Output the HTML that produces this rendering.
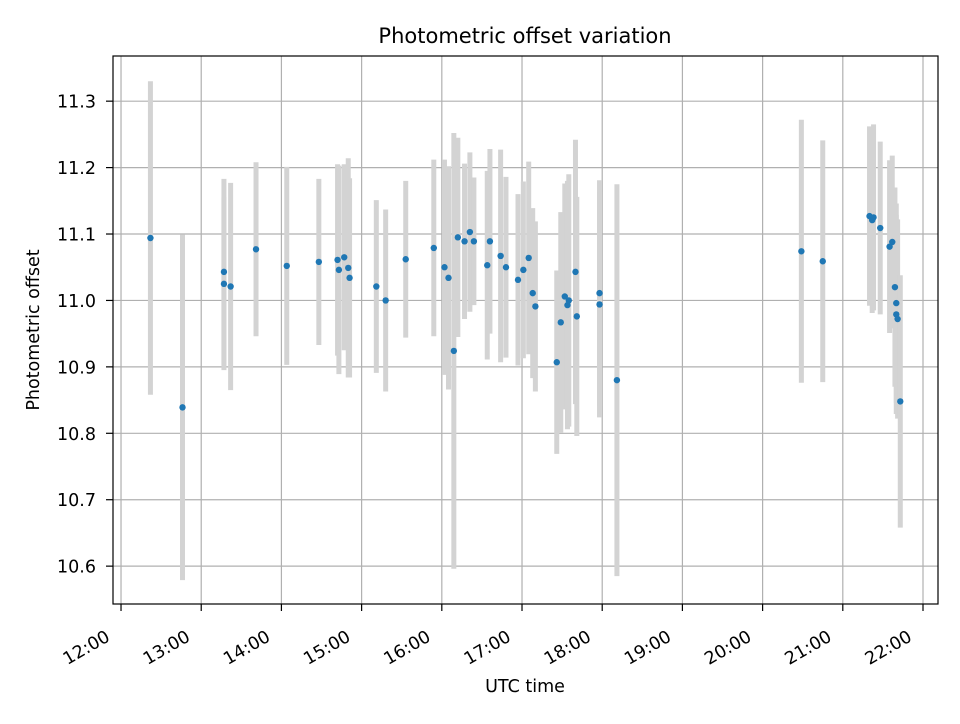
<!DOCTYPE html>
<html><head><meta charset="utf-8"><style>
body{margin:0;background:#fff;font-family:"DejaVu Sans","Liberation Sans",sans-serif}
</style></head><body>
<svg id="chart" width="960" height="720" xmlns="http://www.w3.org/2000/svg" style="font-family:'DejaVu Sans','Liberation Sans',sans-serif">
<rect width="960" height="720" fill="#fff"/>
<text x="525" y="43" text-anchor="middle" font-size="21px">Photometric offset variation</text>
<text x="525" y="692" text-anchor="middle" font-size="17.5px">UTC time</text>
<text transform="translate(39,330) rotate(-90)" text-anchor="middle" font-size="17.5px">Photometric offset</text>
<g id="grid"></g>
<g id="bars"></g>
<g id="pts"></g>
<g id="ticks"></g>
<rect x="113" y="56" width="825" height="548" fill="none" stroke="#000" stroke-width="1.2"/>
</svg>
<script>
const times=["12:22","12:46","13:17","13:17","13:22","13:41","14:04","14:28","14:42","14:43","14:47","14:50","14:51","15:11","15:18","15:33","15:54","16:02","16:05","16:09","16:12","16:17","16:21","16:24","16:34","16:36","16:44","16:48","16:57","17:01","17:05","17:08","17:10","17:26","17:29","17:32","17:34","17:35","17:40","17:41","17:58","17:58","18:11","20:29","20:45","21:20","21:22","21:23","21:28","21:35","21:37","21:39","21:40","21:40","21:41","21:43"];
const values=[11.094,10.839,11.043,11.025,11.021,11.077,11.052,11.058,11.061,11.046,11.065,11.049,11.034,11.021,11.000,11.062,11.079,11.050,11.034,10.924,11.095,11.089,11.103,11.089,11.053,11.089,11.067,11.050,11.031,11.046,11.064,11.011,10.991,10.907,10.967,11.006,10.993,11.000,11.043,10.976,11.011,10.994,10.880,11.074,11.059,11.127,11.121,11.125,11.109,11.081,11.088,11.020,10.996,10.979,10.972,10.848];
const errors=[0.236,0.260,0.140,0.130,0.156,0.131,0.149,0.125,0.144,0.157,0.140,0.165,0.150,0.130,0.137,0.118,0.133,0.162,0.168,0.328,0.150,0.117,0.120,0.096,0.142,0.139,0.160,0.136,0.129,0.133,0.145,0.128,0.128,0.138,0.166,0.170,0.187,0.190,0.199,0.180,0.170,0.170,0.295,0.198,0.182,0.135,0.140,0.140,0.130,0.130,0.130,0.150,0.150,0.150,0.150,0.190];
const yTicks=[10.6,10.7,10.8,10.9,11.0,11.1,11.2,11.3];
const xTicks=["12:00","13:00","14:00","15:00","16:00","17:00","18:00","19:00","20:00","21:00","22:00"];
const NS="http://www.w3.org/2000/svg";
const X0=113,X1=938,Y0=56,Y1=604,hMin=11.9,hMax=22.187,vMin=10.543,vMax=11.368;
function hrs(t){const p=t.split(":");return +p[0]+ +p[1]/60;}
function xs(t){return X0+(hrs(t)-hMin)/(hMax-hMin)*(X1-X0);}
function ys(v){return Y1-(v-vMin)/(vMax-vMin)*(Y1-Y0);}
function mk(tag,attrs,parent){const e=document.createElementNS(NS,tag);for(const k in attrs)e.setAttribute(k,attrs[k]);parent.appendChild(e);return e;}
const grid=document.getElementById("grid"),bars=document.getElementById("bars"),pts=document.getElementById("pts"),ticks=document.getElementById("ticks");
yTicks.forEach(v=>{const y=ys(v);
 const g=mk("line",{x1:X0,x2:X1,y1:y,y2:y,stroke:"#b0b0b0","stroke-width":1.2},grid);
 
 
 const tk=mk("line",{x1:X0-7,x2:X0,y1:y,y2:y,stroke:"#000","stroke-width":1.2},ticks);
 
 
 const t=mk("text",{x:X0-17,y:y+6.5,"text-anchor":"end","font-size":"17.5px"},ticks);
 t.textContent=v.toFixed(1);
 
 
});
xTicks.forEach(s=>{const x=xs(s);
 const g=mk("line",{x1:x,x2:x,y1:Y0,y2:Y1,stroke:"#b0b0b0","stroke-width":1.2},grid);
 
 
 const tk=mk("line",{x1:x,x2:x,y1:Y1,y2:Y1+7,stroke:"#000","stroke-width":1.2},ticks);
 
 
 const t=mk("text",{transform:`translate(${x-10},${Y1+36}) rotate(-30)`,"text-anchor":"end","font-size":"17.5px"},ticks);
 t.textContent=s;
 
 
});
times.forEach((t,i)=>{const x=xs(t);
 const b=mk("line",{x1:x,x2:x,y1:ys(values[i]+errors[i]),y2:ys(values[i]-errors[i]),stroke:"#d3d3d3","stroke-width":5},bars);
 
 
 const c=mk("circle",{cx:x,cy:ys(values[i]),r:3.2,fill:"#1f77b4"},pts);
 
 
});
</script>
</body></html>
